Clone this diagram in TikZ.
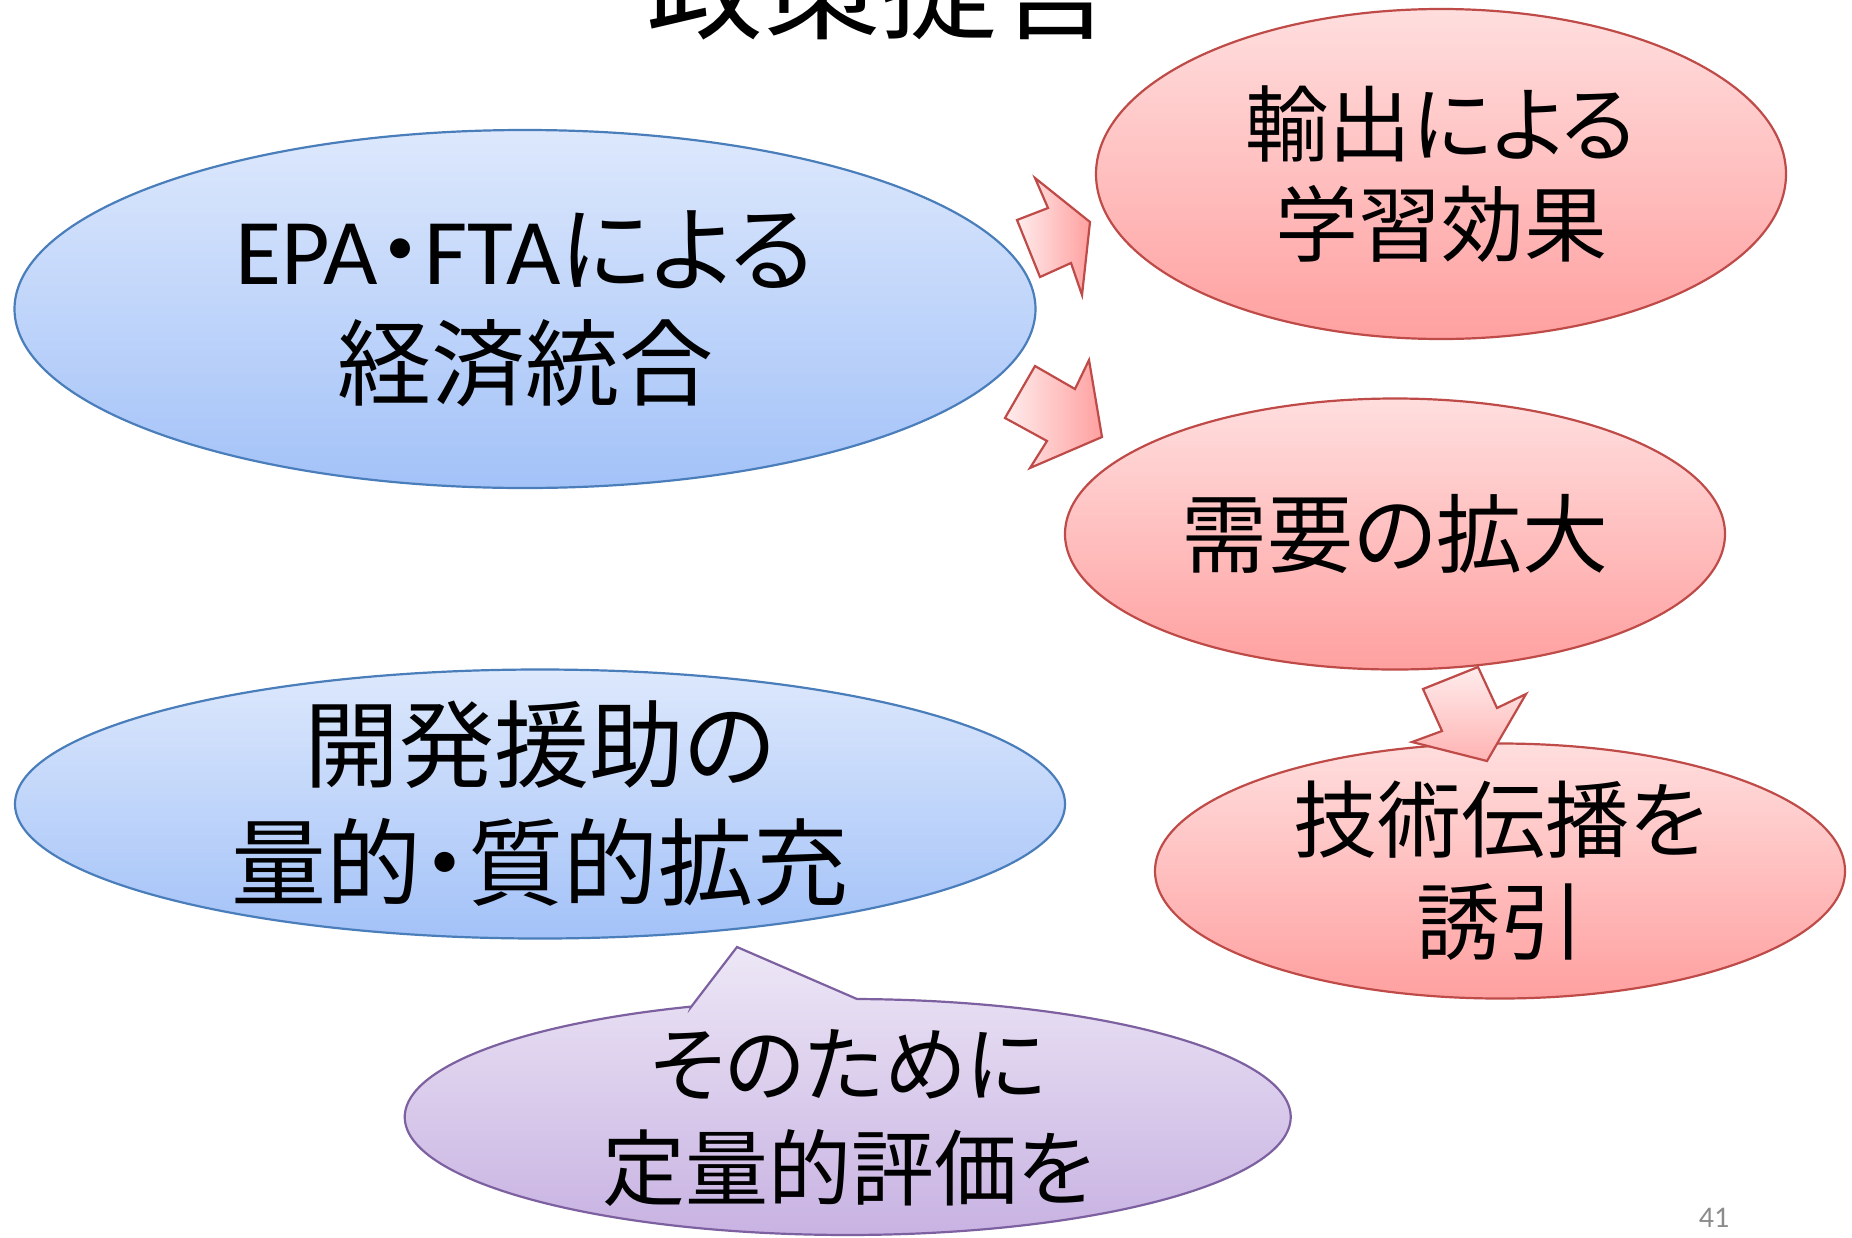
\documentclass[tikz,border=0pt]{standalone}
\usepackage{fontspec}
\setmainfont{Noto Sans CJK JP}[RawFeature=+palt]
\newfontfamily\latfont{Carlito}
\usetikzlibrary{shapes.geometric}
\definecolor{blueline}{HTML}{4A7EBB}
\definecolor{bluetop}{HTML}{DDE8FC}
\definecolor{bluebot}{HTML}{A3C2F8}
\definecolor{redline}{HTML}{BE4B48}
\definecolor{redtop}{HTML}{FFDEDE}
\definecolor{redbot}{HTML}{FFA0A0}
\definecolor{arrowlight}{HTML}{FFECEC}
\definecolor{purpleline}{HTML}{7D60A0}
\definecolor{purpletop}{HTML}{EDE7F6}
\definecolor{purplebot}{HTML}{C8B2E2}
\definecolor{pagegray}{HTML}{8C8C8C}
\tikzset{
  oval/.style={ellipse, inner sep=0pt, line width=1.1pt},
  blueoval/.style={oval, draw=blueline, top color=bluetop, bottom color=bluebot},
  redoval/.style={oval, draw=redline, top color=redtop, bottom color=redbot},
  ovaltext/.style={align=center, inner sep=0pt},
  blockarrow/.style={draw=redline, line width=1.1pt, line join=miter},
}
\begin{document}
\begin{tikzpicture}[x=0.5pt, y=-0.5pt]
  \useasboundingbox (0,0) rectangle (1852,1237);
  \clip (0,0) rectangle (1852,1237);

  \node[anchor=base, font=\fontsize{58.5pt}{62pt}\selectfont] (title) at (880,30) {政策提言};

  % left side
  \node[blueoval, minimum width=510.5pt, minimum height=179pt] (epa) at (525,309) {};
  \node[ovaltext, font=\fontsize{47pt}{57pt}\selectfont] (epatext) at (epa) {{\latfont EPA}・{\latfont FTA}による\\経済統合};
  \node[blueoval, minimum width=525pt, minimum height=134.5pt] (aid) at (540,804) {};
  \node[ovaltext, font=\fontsize{47.5pt}{59pt}\selectfont] (aidtext) at (aid) {開発援助の\\量的・質的拡充};

  % right side
  \node[redoval, minimum width=345pt, minimum height=165pt] (learn) at (1441,174) {};
  \node[ovaltext, font=\fontsize{41.5pt}{50pt}\selectfont] (learntext) at (learn) {輸出による\\学習効果};
  \node[redoval, minimum width=330pt, minimum height=135.5pt] (demand) at (1395,534) {};
  \node[ovaltext, font=\fontsize{43pt}{50pt}\selectfont] (demandtext) at (demand) {需要の拡大};
  \node[redoval, minimum width=345pt, minimum height=127.5pt] (spill) at (1500,871) {};
  \node[ovaltext, font=\fontsize{42pt}{51pt}\selectfont] (spilltext) at (spill) {技術伝播を\\誘引};

  % block arrows
  \draw[blockarrow, left color=arrowlight, right color=redbot] (1017,220)--(1048,208)--(1035,178)--(1090,222)--(1082,295)--(1071,263)--(1040,277)--cycle;
  \draw[blockarrow, left color=arrowlight, right color=redbot] (1005,418)--(1035,366)--(1075,389)--(1089,360)--(1102,437)--(1030,468)--(1047,441)--cycle;
  \draw[blockarrow, top color=arrowlight, bottom color=redbot!80!white] (1423,689)--(1478,667)--(1497,708)--(1526,694)--(1487,761)--(1412,742)--(1442,731)--cycle;

  % callout
  \shade[draw=purpleline, line width=1.1pt, top color=purpletop, bottom color=purplebot]
    (691,1007) -- (737,947) -- (857,999) arc[start angle=-88.8, end angle=249.3, x radius=443, y radius=118] -- cycle;
  \node[ovaltext, font=\fontsize{41.5pt}{52pt}\selectfont] (why) at (848,1118) {そのために\\定量的評価を};

  \node[anchor=base, text=pagegray, font=\latfont\fontsize{15pt}{18pt}\selectfont] (pagenum) at (1714,1227) {41};
\end{tikzpicture}
\end{document}
